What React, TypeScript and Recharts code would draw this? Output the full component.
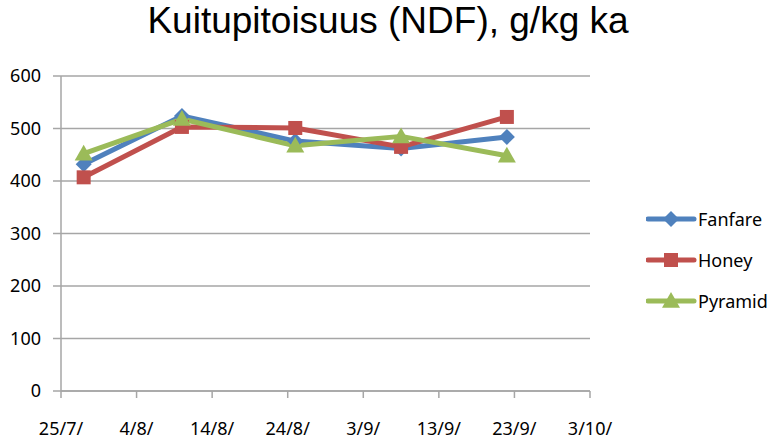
import { LineChart, Line, XAxis, YAxis, CartesianGrid } from 'recharts'

// sampling dates (d/m) and NDF values, g/kg dry matter
const dates = ['28/7', '10/8', '25/8', '8/9', '22/9']
const fanfare = [432, 524, 476, 462, 484]
const honey = [407, 503, 501, 465, 522]
const pyramid = [452, 518, 467, 485, 448]

const xTickLabels = ['25/7/', '4/8/', '14/8/', '24/8/', '3/9/', '13/9/', '23/9/', '3/10/']
const yTicks = [0, 100, 200, 300, 400, 500, 600]

const FONT = '"Noto Sans", "Open Sans", sans-serif'
const GRID = '#a6a6a6'

const toDay = (s: string) => {
  const [d, m] = s.split('/').map(Number)
  return Date.UTC(2010, m - 1, d) / 86400000
}
const start = toDay(xTickLabels[0])
const xTicks = xTickLabels.map(l => toDay(l) - start)

const data = dates.map((d, i) => ({
  day: toDay(d) - start,
  Fanfare: fanfare[i],
  Honey: honey[i],
  Pyramid: pyramid[i],
}))

const series = [
  { key: 'Fanfare', color: '#4F81BD', shape: 'diamond' },
  { key: 'Honey', color: '#C0504D', shape: 'square' },
  { key: 'Pyramid', color: '#9BBB59', shape: 'triangle' },
]

function Marker({ cx, cy, shape, color }: { cx: number; cy: number; shape: string; color: string }) {
  if (shape === 'diamond') {
    const r = 8
    return <polygon points={`${cx},${cy - r} ${cx + r},${cy} ${cx},${cy + r} ${cx - r},${cy}`} fill={color} />
  }
  if (shape === 'square') {
    const r = 7
    return <rect x={cx - r} y={cy - r} width={r * 2} height={r * 2} fill={color} />
  }
  const r = 9
  return <polygon points={`${cx},${cy - r} ${cx + r},${cy + r * 0.75} ${cx - r},${cy + r * 0.75}`} fill={color} />
}

function LegendBox() {
  return (
    <div style={{ position: 'absolute', left: 646, top: 198, fontFamily: FONT, fontSize: 18, color: '#000' }}>
      {series.map(s => (
        <div key={s.key} style={{ display: 'flex', alignItems: 'center', height: 41 }}>
          <svg width={52} height={20}>
            <line x1={2} y1={10} x2={48} y2={10} stroke={s.color} strokeWidth={5} strokeLinecap="round" />
            <Marker cx={25} cy={10} shape={s.shape} color={s.color} />
          </svg>
          <span>{s.key}</span>
        </div>
      ))}
    </div>
  )
}

export default function App() {
  return (
    <div style={{ position: 'absolute', left: 0, top: 0, width: 776, height: 439, background: '#fff' }}>
      <div style={{
        position: 'absolute', left: 0, width: 776, top: 0, textAlign: 'center',
        fontFamily: '"Liberation Sans", Arial, sans-serif', fontSize: 37, color: '#000',
      }}>
        Kuitupitoisuus (NDF), g/kg ka
      </div>
      <LineChart width={776} height={439} data={data} margin={{ top: 76, right: 186, left: 0, bottom: 0 }}>
        <CartesianGrid vertical={false} stroke={GRID} strokeWidth={1.5} />
        <XAxis
          dataKey="day"
          type="number"
          domain={[xTicks[0], xTicks[xTicks.length - 1]]}
          ticks={xTicks}
          tickFormatter={v => xTickLabels[xTicks.indexOf(v)] ?? ''}
          height={48}
          tickSize={7}
          tickMargin={24}
          stroke={GRID}
          strokeWidth={1.5}
          tick={{ fill: '#000', fontSize: 18, fontFamily: FONT }}
          interval={0}
        />
        <YAxis
          domain={[0, 600]}
          ticks={yTicks}
          width={61}
          tickSize={8}
          tickMargin={12}
          stroke={GRID}
          strokeWidth={1.5}
          tick={{ fill: '#000', fontSize: 18, fontFamily: FONT }}
          interval={0}
        />
        {series.map(s => (
          <Line
            key={s.key}
            dataKey={s.key}
            stroke={s.color}
            strokeWidth={5}
            strokeLinejoin="round"
            isAnimationActive={false}
            dot={(p: any) => <Marker key={p.index} cx={p.cx} cy={p.cy} shape={s.shape} color={s.color} />}
            activeDot={false}
          />
        ))}
      </LineChart>
      <LegendBox />
    </div>
  )
}
